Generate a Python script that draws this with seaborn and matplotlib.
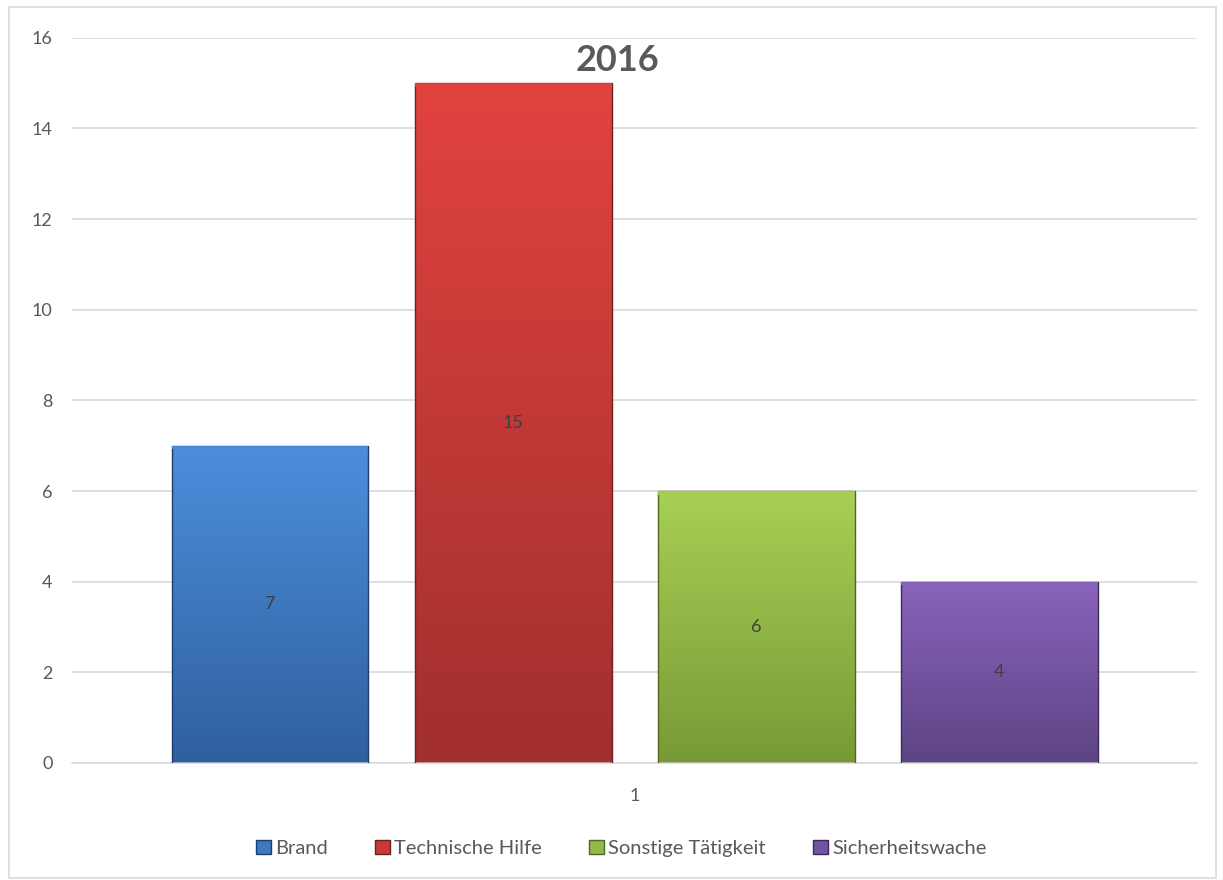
import numpy as np
import pandas as pd
import matplotlib
matplotlib.use("Agg")
import matplotlib.pyplot as plt
import seaborn as sns
from matplotlib.patches import Rectangle, Patch
from matplotlib.colors import LinearSegmentedColormap

# Chart data
categories = ['Brand', 'Technische Hilfe', 'Sonstige Tätigkeit', 'Sicherheitswache']
values = [7, 15, 6, 4]
group_label = '1'
title = '2016'

# top / bottom colours of each bar gradient
top_colors = ['#4C8EDC', '#E2433F', '#A8CF55', '#8A63BC']
bottom_colors = ['#2F609E', '#A02F2D', '#789A36', '#5D4485']
mid_colors = ['#3D78C4', '#C53B38', '#92B847', '#7453A3']
edge_colors = ['#1F3F6A', '#6E1F1E', '#50671F', '#3C2B58']

df = pd.DataFrame({'group': [group_label] * len(categories),
                   'category': categories,
                   'value': values})

sns.set_style('white')
plt.rcParams['font.family'] = ['Lato', 'DejaVu Sans']

fig = plt.figure(figsize=(12.23, 8.8), dpi=100)
ax = fig.add_axes([0.0589, 0.133, 0.92, 0.824])

sns.barplot(data=df, x='group', y='value', hue='category', hue_order=categories,
            palette=mid_colors, width=0.864, gap=0.19, legend=False,
            edgecolor='none', ax=ax)

ax.set_ylim(0, 16)
ax.set_xlim(-0.5, 0.5)
xlim = ax.get_xlim()

# gradient fill for each bar, clipped to the bar shape
for i, bar in enumerate(ax.patches):
    x0, y0 = bar.get_x(), bar.get_y()
    w, h = bar.get_width(), bar.get_height()
    cmap = LinearSegmentedColormap.from_list('g', [bottom_colors[i], top_colors[i]])
    grad = np.linspace(0, 1, 256).reshape(-1, 1)
    im = ax.imshow(grad, cmap=cmap, origin='lower', aspect='auto',
                   extent=[x0, x0 + w, y0, y0 + h], zorder=2)
    im.set_clip_path(bar)
    bar.set_facecolor('none')
    bar.set_edgecolor(edge_colors[i])
    bar.set_linewidth(1.0)
    bar.set_zorder(3)
    # light bevel on top edge
    ax.add_patch(Rectangle((x0, y0 + h - 0.08), w, 0.08, facecolor=top_colors[i],
                           edgecolor='none', alpha=0.9, zorder=3))
    ax.text(x0 + w / 2, h / 2, str(values[i]), ha='center', va='center',
            fontsize=13, color='#404040', zorder=4)

ax.set_xlim(xlim)
ax.set_ylim(0, 16)
ax.set_yticks(range(0, 17, 2))
ax.yaxis.grid(True, color='#D9D9D9', linewidth=1.2)
ax.set_axisbelow(True)
for s in ['top', 'right', 'left']:
    ax.spines[s].set_visible(False)
ax.spines['bottom'].set_color('#D9D9D9')
ax.spines['bottom'].set_linewidth(1.2)
ax.tick_params(axis='both', length=0, labelsize=13, labelcolor='#595959', pad=14)
ax.tick_params(axis='x', pad=18)
ax.set_xlabel('')
ax.set_ylabel('')

ax.text(-0.015, 15.5, title, ha='center', va='center', fontsize=26,
        fontweight='bold', color='#595959', zorder=5)

handles = [Patch(facecolor=mid_colors[i], edgecolor=edge_colors[i], label=c)
           for i, c in enumerate(categories)]
fig.legend(handles=handles, loc='center', bbox_to_anchor=(0.508, 0.036), ncol=4,
           frameon=False, fontsize=14.5, handlelength=0.75, handleheight=0.75,
           handletextpad=0.2, columnspacing=2.35, labelcolor='#595959')

# outer chart border
fig.patches.append(Rectangle((0.007, 0.002), 0.987, 0.99, transform=fig.transFigure,
                             fill=False, edgecolor='#D9D9D9', linewidth=1.2))

fig.savefig('out.png', dpi=100)
